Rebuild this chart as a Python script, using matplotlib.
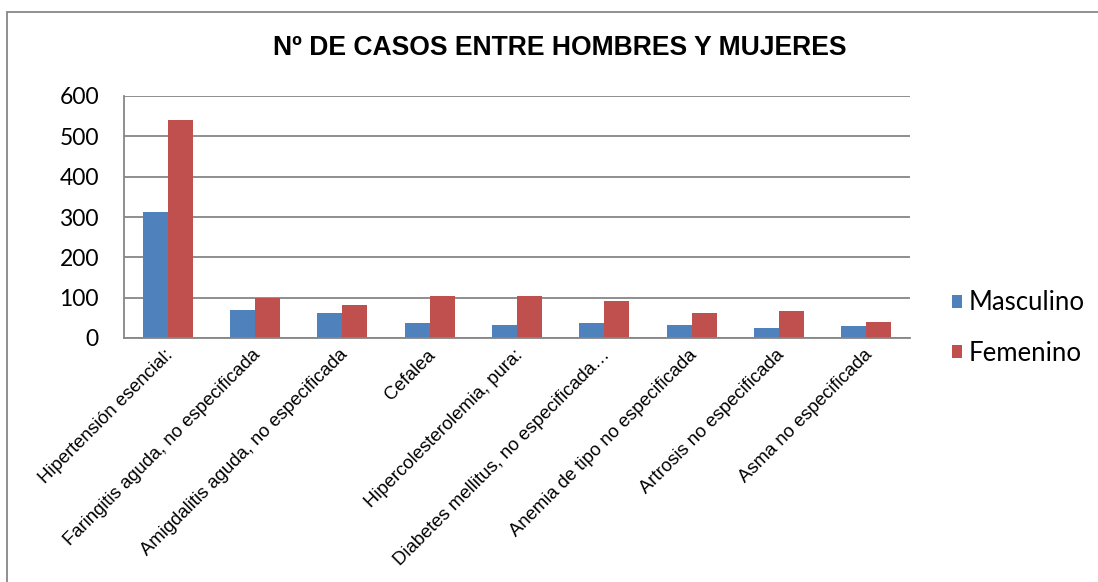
import numpy as np
import matplotlib
matplotlib.use("Agg")
import matplotlib.pyplot as plt
from matplotlib.patches import Rectangle
from matplotlib.transforms import ScaledTranslation

# datos
categorias = [
    "Hipertensión esencial:",
    "Faringitis aguda, no especificada",
    "Amigdalitis aguda, no especificada",
    "Cefalea",
    "Hipercolesterolemia, pura:",
    "Diabetes mellitus, no especificada…",
    "Anemia de tipo no especificada",
    "Artrosis no especificada",
    "Asma no especificada",
]
masculino = [313, 69, 61, 37, 33, 37, 31, 24, 29]
femenino = [540, 99, 81, 104, 105, 92, 61, 68, 39]
series = ["Masculino", "Femenino"]
colores = ["#4F81BD", "#C0504D"]
y_ticks = [0, 100, 200, 300, 400, 500, 600]

W, H = 1098, 582
fig = plt.figure(figsize=(W / 100, H / 100), dpi=100)

# borde del área del gráfico (estilo Excel)
fig.patches.append(Rectangle((7 / W, -0.1), 1.2, 1 - 12 / H + 0.1,
                             transform=fig.transFigure, fill=False,
                             edgecolor="#878787", linewidth=1.3))

ax = fig.add_axes([124 / W, 1 - 338 / H, (910 - 124) / W, (338 - 96) / H])

x = np.arange(len(categorias))
ancho = 0.286
ax.bar(x - ancho / 2, masculino, ancho, color=colores[0], label=series[0])
ax.bar(x + ancho / 2, femenino, ancho, color=colores[1], label=series[1])

ax.set_xlim(-0.5, len(categorias) - 0.5)
ax.set_ylim(0, 600)
ax.set_yticks(y_ticks)
ax.set_yticklabels([str(v) for v in y_ticks], fontfamily="Lato", fontsize=16.5)
ax.yaxis.grid(True, color="#868686", linewidth=1.3)
ax.set_axisbelow(True)
ax.tick_params(axis="y", length=0, pad=18)
ax.tick_params(axis="x", length=0, pad=6)

ax.set_xticks(x)
ax.set_xticklabels(categorias, rotation=45, ha="right", rotation_mode="anchor",
                   fontfamily="Liberation Sans", fontsize=13.3)
# pequeño corrimiento a la izquierda, como en Excel
for lbl in ax.get_xticklabels():
    lbl.set_transform(lbl.get_transform() + ScaledTranslation(-3 / 100, 0, fig.dpi_scale_trans))

for lado in ["top", "right"]:
    ax.spines[lado].set_visible(False)
for lado in ["left", "bottom"]:
    ax.spines[lado].set_color("#868686")
    ax.spines[lado].set_linewidth(1.3)

fig.text(560 / W, 1 - 48 / H, "Nº DE CASOS ENTRE HOMBRES Y MUJERES",
         ha="center", va="center", fontfamily="Liberation Sans",
         fontweight="bold", fontsize=19.1)

ax.legend(loc="center left", bbox_to_anchor=(952 / W, 1 - 328 / H),
          bbox_transform=fig.transFigure, frameon=False,
          prop={"family": "Lato", "size": 18.5},
          borderpad=0, borderaxespad=0,
          handlelength=0.4, handleheight=0.4, handletextpad=0.25,
          labelspacing=0.98)

fig.savefig("out.png", dpi=100)
